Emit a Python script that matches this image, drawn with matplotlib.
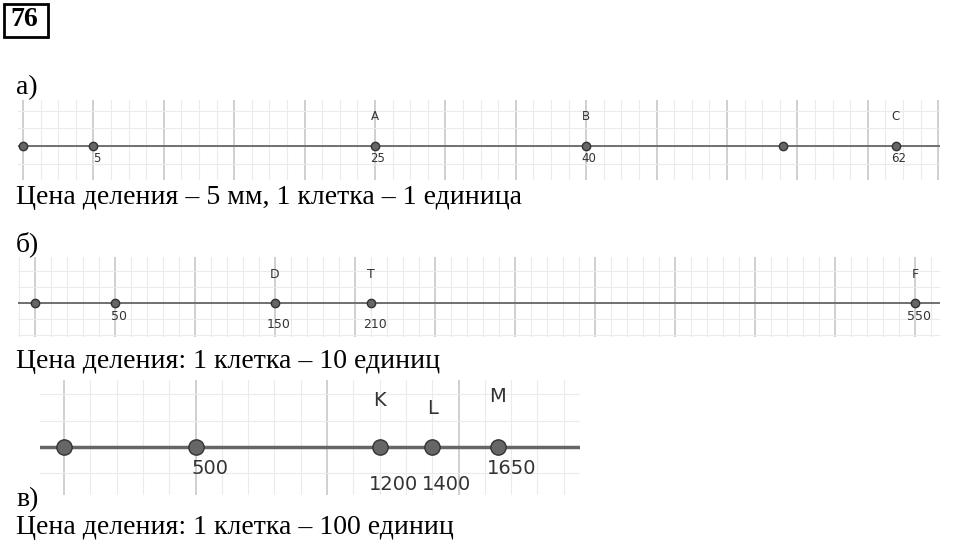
import matplotlib
matplotlib.use("Agg")
import matplotlib.pyplot as plt
import numpy as np
from matplotlib.patches import Rectangle

W, H = 960, 547
# data
a_vals = [0, 5, 25, 40, 54, 62]
a_nums = ["", "5", "25", "40", "", "62"]
a_letters = ["", "", "A", "B", "", "C"]
b_vals = [0, 50, 150, 210, 550]
b_nums = ["", "50", "150", "210", "550"]
b_letters = ["", "", "D", "T", "F"]
c_vals = [0, 500, 1200, 1400, 1650]
c_nums = ["", "500", "1200", "1400", "1650"]
c_letters = ["", "", "K", "L", "M"]
captions = ["Цена деления – 5 мм, 1 клетка – 1 единица",
            "Цена деления: 1 клетка – 10 единиц",
            "Цена деления: 1 клетка – 100 единиц"]

fig = plt.figure(figsize=(9.6, 5.47), dpi=100)
serif = ["Liberation Serif", "DejaVu Serif"]

def px_axes(x0, x1, ytop, ybot):
    return fig.add_axes([x0 / W, 1 - ybot / H, (x1 - x0) / W, (ybot - ytop) / H])

def panel(x0, x1, ytop, ybot, yline, zero_px, ppu, major, nminor,
          vals, nums, letters, ms, lw, fs, numdy, letdy, numdx):
    ax = px_axes(x0, x1, ytop, ybot)
    ax.set_xlim((x0 - zero_px) / ppu, (x1 - zero_px) / ppu)
    ax.set_ylim(ybot - yline, ytop - yline)
    xmin, xmax = ax.get_xlim()
    cell = major / nminor
    for k in range(int(np.floor(xmin / cell)), int(np.ceil(xmax / cell)) + 1):
        x = k * cell
        is_major = k % nminor == 0
        ax.axvline(x, color="#c8c8c8" if is_major else "#ebebeb",
                   lw=1.2 if is_major else 0.8, zorder=0)
    cpx = cell * ppu
    for k in np.arange(-10, 11):
        ax.axhline(k * cpx, color="#ebebeb", lw=0.8, zorder=0)
    ax.axhline(0, color="#666666", lw=lw, zorder=1)
    ax.plot(vals, [0] * len(vals), "o", ms=ms, mfc="#666666", mec="#333333",
            mew=1, zorder=3)
    for i, (v, n, l) in enumerate(zip(vals, nums, letters)):
        ndy = numdy[i] if isinstance(numdy, list) else numdy
        ldy = letdy[i] if isinstance(letdy, list) else letdy
        if n:
            ax.text(v + numdx / ppu, ndy, n, fontsize=fs, ha="center", va="center",
                    color="#333333", family="DejaVu Sans")
        if l:
            ax.text(v, ldy, l, fontsize=fs, ha="center", va="center",
                    color="#333333", family="DejaVu Sans")
    ax.axis("off")
    return ax

panel(18, 940, 100, 180, 146, 23, 14.08, 5, 4, a_vals, a_nums, a_letters,
      6, 1.3, 8.5, 12, -29, 3)
panel(18, 940, 257, 337, 303, 35, 1.6, 50, 5, b_vals, b_nums, b_letters,
      6, 1.3, 9, [0, 14, 22, 22, 14], -29, 4)
panel(40, 580, 380, 495, 447, 64, 0.263, 500, 5, c_vals, c_nums, c_letters,
      11, 2.5, 14, [0, 22, 22, 38, 38, 22][:5] if False else [0, 22, 38, 38, 22],
      [0, 0, -47, -39, -50], 14)

def ft(x, y, s, **kw):
    fig.text(x / W, 1 - y / H, s, family=serif, fontsize=kw.pop("fs", 20),
             va="center", ha="left", **kw)

ft(16, 88, "а)")
ft(16, 198, captions[0])
ft(16, 244, "б)")
ft(16, 362, captions[1])
ft(16, 500, "в)")
ft(16, 528, captions[2])
ft(10, 20, "76", fs=20, weight="bold")
fig.patches.append(Rectangle((4 / W, 1 - 37 / H), 44 / W, 33 / H, fill=False,
                             lw=2, ec="black", transform=fig.transFigure))
fig.savefig("out.png", dpi=100)
